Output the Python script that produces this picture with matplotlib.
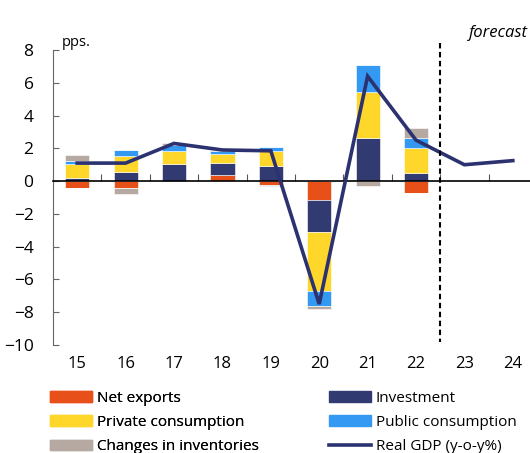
import numpy as np
import matplotlib
matplotlib.use('Agg')
import matplotlib.pyplot as plt
from matplotlib.patches import Patch
from matplotlib.lines import Line2D

plt.rcParams.update({
    'font.family': ['Open Sans', 'DejaVu Sans'],
    'font.size': 11,
})

COLORS = {
    'net_exports': '#E8501A',
    'investment': '#323A72',
    'private': '#FFD62A',
    'public': '#3399F3',
    'inventories': '#B5A9A1',
    'gdp': '#2C3270',
}

# contributions to real GDP growth (pps.), 2015-2022
years = ['15', '16', '17', '18', '19', '20', '21', '22', '23', '24']
net_exports = [-0.41, -0.39, -0.05, 0.40, -0.24, -1.18, 0.00, -0.75]
investment = [0.18, 0.55, 1.02, 0.72, 0.91, -1.93, 2.64, 0.51]
private_cons = [0.84, 0.97, 0.81, 0.56, 0.94, -3.62, 2.81, 1.52]
public_cons = [0.22, 0.35, 0.40, 0.15, 0.24, -0.89, 1.62, 0.61]
inventories = [0.35, -0.42, 0.10, 0.05, -0.05, -0.17, -0.29, 0.63]
# real GDP growth y-o-y %, 2015-2024
real_gdp = [1.1, 1.1, 2.3, 1.9, 1.85, -7.5, 6.4, 2.5, 1.0, 1.25]

components = [
    ('Net exports', net_exports, COLORS['net_exports']),
    ('Investment', investment, COLORS['investment']),
    ('Private consumption', private_cons, COLORS['private']),
    ('Public consumption', public_cons, COLORS['public']),
    ('Changes in inventories', inventories, COLORS['inventories']),
]

fig = plt.figure(figsize=(5.3, 4.53), dpi=100)
ax = fig.add_axes([53 / 530, 0.2384, 484 / 530, 0.6512])

x = np.arange(len(net_exports))
pos_base = np.zeros(len(x))
neg_base = np.zeros(len(x))
for name, vals, col in components:
    v = np.array(vals)
    pos = np.where(v > 0, v, 0)
    neg = np.where(v < 0, v, 0)
    ax.bar(x, pos, 0.5, bottom=pos_base, color=col, edgecolor='white',
           linewidth=0.4, zorder=1)
    ax.bar(x, neg, 0.5, bottom=neg_base, color=col, edgecolor='white',
           linewidth=0.4, zorder=1)
    pos_base += pos
    neg_base += neg

ax.plot(np.arange(len(real_gdp)), real_gdp, color=COLORS['gdp'], lw=2.6,
        solid_joinstyle='miter', zorder=4)

# forecast separator
ax.plot([7.5, 7.5], [8.42, -9.82], color='black', lw=1.5,
        ls=(0, (2.6, 1.7)), clip_on=False, zorder=5)

ax.set_xlim(-0.5, 9.5)
ax.set_ylim(-10, 8)
ax.set_yticks(range(-10, 9, 2))
ax.tick_params(axis='y', direction='in', length=4, color='#666666',
               labelsize=12.5, pad=14)

ax.spines['top'].set_visible(False)
ax.spines['right'].set_visible(False)
ax.spines['left'].set_color('#666666')
ax.spines['bottom'].set_position(('data', 0))
ax.spines['bottom'].set_color('black')
ax.spines['bottom'].set_linewidth(1.2)
ax.spines['bottom'].set_zorder(3)

ax.set_xticks(np.arange(0.5, 9.5, 1))
ax.set_xticklabels([])
ax.tick_params(axis='x', direction='in', length=5, color='#555555')

secax = ax.secondary_xaxis('bottom')
secax.set_xticks(range(len(years)), labels=years)
secax.tick_params(length=0, pad=8, labelsize=12)
secax.spines['bottom'].set_visible(False)

fig.text(62 / 530, (453 - 43) / 453, 'pps.', fontsize=10.5, va='center', ha='left')
fig.text(469 / 530, (453 - 33) / 453, 'forecast', fontsize=12, style='italic',
         va='center', ha='left')

leg_kw = dict(frameon=False, borderpad=0, borderaxespad=0, handlelength=2.75,
              handletextpad=0.3, labelspacing=0.6, fontsize=11)
left_handles = [Patch(color=COLORS['net_exports'], label='Net exports'),
                Patch(color=COLORS['private'], label='Private consumption'),
                Patch(color=COLORS['inventories'], label='Changes in inventories')]
right_handles = [Patch(color=COLORS['investment'], label='Investment'),
                 Patch(color=COLORS['public'], label='Public consumption'),
                 Line2D([], [], color=COLORS['gdp'], lw=2.6, label='Real GDP (y-o-y%)')]
leg1 = fig.legend(handles=left_handles, loc='upper left',
                  bbox_to_anchor=(50 / 530, (453 - 391) / 453), **leg_kw)
fig.add_artist(leg1)
fig.legend(handles=right_handles, loc='upper left',
           bbox_to_anchor=(329 / 530, (453 - 391) / 453), **leg_kw)

fig.savefig('out.png', dpi=100)
